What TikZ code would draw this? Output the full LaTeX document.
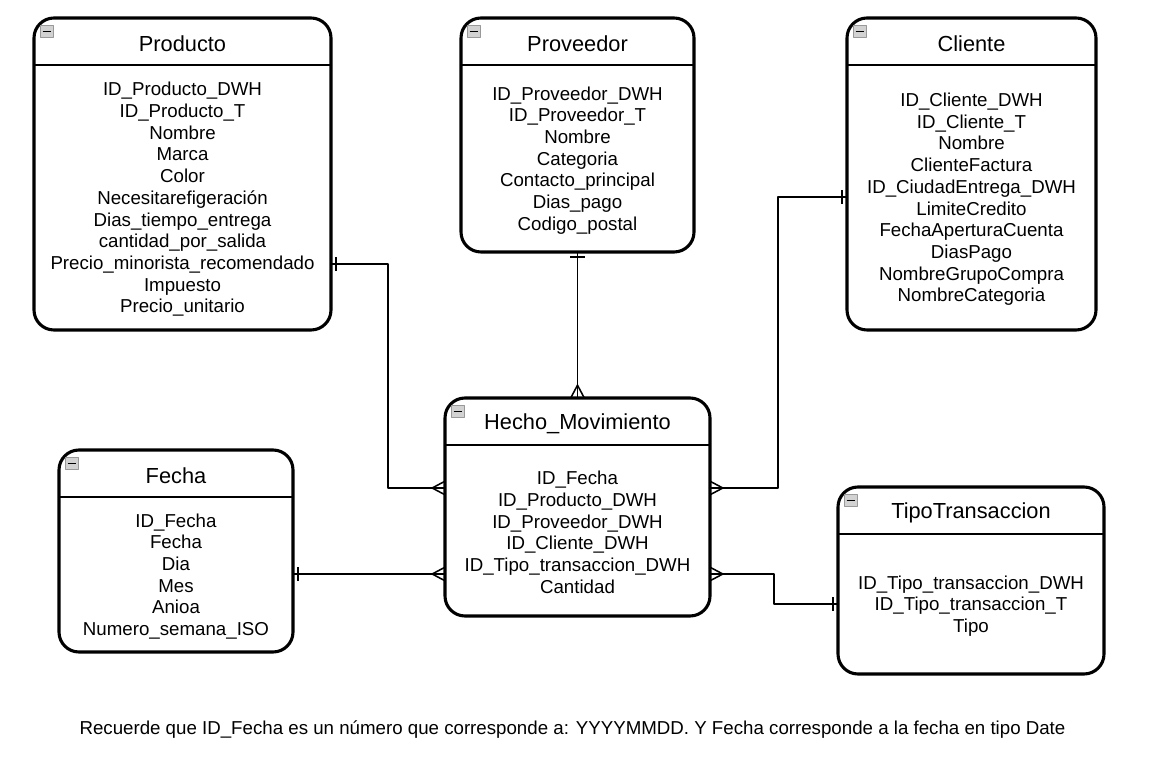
\documentclass[tikz,border=0pt]{standalone}
\usepackage{fontspec}
\setmainfont{Liberation Sans}
\usepackage{tikz}
\usetikzlibrary{calc,arrows.meta,positioning}

% ER cardinality tips: the line always runs to the box edge
\pgfdeclarearrow{
  name=ER one,
  parameters={\the\pgfarrowlength,\the\pgfarrowwidth},
  setup code={
    \pgfarrowssettipend{0pt}
    \pgfarrowssetlineend{0pt}
    \pgfarrowssetbackend{-\pgfarrowlength}
    \pgfarrowssavethe\pgfarrowlength
    \pgfarrowssavethe\pgfarrowwidth
  },
  drawing code={
    \pgfpathmoveto{\pgfqpoint{-\pgfarrowlength}{.5\pgfarrowwidth}}
    \pgfpathlineto{\pgfqpoint{-\pgfarrowlength}{-.5\pgfarrowwidth}}
    \pgfusepathqstroke
  },
  defaults={length=0.13cm,width=0.36cm}
}
\pgfdeclarearrow{
  name=ER many,
  parameters={\the\pgfarrowlength,\the\pgfarrowwidth},
  setup code={
    \pgfarrowssettipend{0pt}
    \pgfarrowssetlineend{0pt}
    \pgfarrowssetbackend{-\pgfarrowlength}
    \pgfarrowssavethe\pgfarrowlength
    \pgfarrowssavethe\pgfarrowwidth
  },
  drawing code={
    \pgfpathmoveto{\pgfqpoint{0pt}{.5\pgfarrowwidth}}
    \pgfpathlineto{\pgfqpoint{-\pgfarrowlength}{0pt}}
    \pgfpathlineto{\pgfqpoint{0pt}{-.5\pgfarrowwidth}}
    \pgfusepathqstroke
  },
  defaults={length=0.32cm,width=0.34cm}
}

\tikzset{
  one/.tip={ER one},
  many/.tip={ER many}
}

\begin{document}
\begin{tikzpicture}[
  line join=round,
  entity/.style={draw=black,rectangle,rounded corners=0.5cm,line width=2.2pt,
    inner sep=0pt,outer sep=0pt},
  entitytitle/.style={font=\fontsize{15.5}{18}\selectfont,inner sep=0pt},
  attrlist/.style={font=\fontsize{13.3}{15.45}\selectfont,align=center,inner sep=0pt},
  sepline/.style={black,line width=2pt},
  link/.style={black,line width=1.1pt},
  btn/.style={draw=gray!80,fill=gray!35,line width=0.6pt,minimum width=0.31cm,
    minimum height=0.29cm,inner sep=0pt,
    path picture={\draw[black,line width=1pt]
      ([xshift=0.05cm]path picture bounding box.west) --
      ([xshift=-0.05cm]path picture bounding box.east);}}
]
\path[use as bounding box] (0,0) rectangle (28.725,19.25);

% entities
\node[entity,minimum width=7.425cm,minimum height=7.8cm] (prod) at (4.5625,14.9) {};
\node[entity,minimum width=5.825cm,minimum height=5.85cm] (prov) at (14.4375,15.875) {};
\node[entity,minimum width=6.225cm,minimum height=7.8cm] (cli) at (24.2875,14.9) {};
\node[entity,minimum width=6.625cm,minimum height=5.45cm] (hecho) at (14.4375,6.575) {};
\node[entity,minimum width=5.85cm,minimum height=5.05cm] (fecha) at (4.4,5.475) {};
\node[entity,minimum width=6.65cm,minimum height=4.675cm] (tipo) at (24.275,4.7375) {};

% header line, collapse button
\foreach \e in {prod,prov,cli,hecho,fecha,tipo}{
  \draw[sepline] ([yshift=-1.175cm]\e.north west) -- ([yshift=-1.175cm]\e.north east);
  \node[btn] (\e-btn) at ([xshift=0.32cm,yshift=-0.34cm]\e.north west) {};
}

% titles
\node[entitytitle] (prod-t) at ([yshift=-0.64cm]prod.north) {Producto};
\node[entitytitle] (prov-t) at ([yshift=-0.64cm]prov.north) {Proveedor};
\node[entitytitle] (cli-t) at ([yshift=-0.64cm]cli.north) {Cliente};
\node[entitytitle] (hecho-t) at ([yshift=-0.64cm]hecho.north) {Hecho\_Movimiento};
\node[entitytitle] (fecha-t) at ([yshift=-0.64cm]fecha.north) {Fecha};
\node[entitytitle] (tipo-t) at ([yshift=-0.64cm]tipo.north) {TipoTransaccion};

% attributes
\node[attrlist] (prod-a) at ($(prod.south)!0.5!([yshift=-1.27cm]prod.north)$)
  {ID\_Producto\_DWH\\ID\_Producto\_T\\Nombre\\Marca\\Color\\
   Necesitarefigeración\\Dias\_tiempo\_entrega\\cantidad\_por\_salida\\
   Precio\_minorista\_recomendado\\Impuesto\\Precio\_unitario};
\node[attrlist] (prov-a) at ($(prov.south)!0.5!([yshift=-1.27cm]prov.north)$)
  {ID\_Proveedor\_DWH\\ID\_Proveedor\_T\\Nombre\\Categoria\\
   Contacto\_principal\\Dias\_pago\\Codigo\_postal};
\node[attrlist] (cli-a) at ($(cli.south)!0.5!([yshift=-1.27cm]cli.north)$)
  {ID\_Cliente\_DWH\\ID\_Cliente\_T\\Nombre\\ClienteFactura\\
   ID\_CiudadEntrega\_DWH\\LimiteCredito\\FechaAperturaCuenta\\DiasPago\\
   NombreGrupoCompra\\NombreCategoria};
\node[attrlist] (hecho-a) at ($(hecho.south)!0.5!([yshift=-1.27cm]hecho.north)$)
  {ID\_Fecha\\ID\_Producto\_DWH\\ID\_Proveedor\_DWH\\ID\_Cliente\_DWH\\
   ID\_Tipo\_transaccion\_DWH\\Cantidad};
\node[attrlist] (fecha-a) at ($(fecha.south)!0.5!([yshift=-1.27cm]fecha.north)$)
  {ID\_Fecha\\Fecha\\Dia\\Mes\\Anioa\\Numero\_semana\_ISO};
\node[attrlist] (tipo-a) at ($(tipo.south)!0.5!([yshift=-1.27cm]tipo.north)$)
  {ID\_Tipo\_transaccion\_DWH\\ID\_Tipo\_transaccion\_T\\Tipo};

% relationships
\coordinate (k1) at (9.7,7.05);
\coordinate (k2) at (19.45,7.05);
\coordinate (k3) at (19.35,4.15);
\draw[link,one-many] (prod.east |- 0,12.65) -| (k1) -- (hecho.west |- k1);
\draw[link,one-many] (prov.south) -- (hecho.north);
\draw[link,one-many] (cli.west |- 0,14.325) -| (k2) -- (hecho.east |- k2);
\draw[link,one-many] (fecha.east |- 0,4.9) -- (hecho.west |- 0,4.9);
\draw[link,many-one] (hecho.east |- 0,4.9) -| (k3) -- (tipo.west |- k3);

\node[attrlist] (nota) at (14.3125,1.02)
  {Recuerde que ID\_Fecha es un número que corresponde a: YYYYMMDD. Y Fecha corresponde a la fecha en tipo Date};
\end{tikzpicture}
\end{document}
